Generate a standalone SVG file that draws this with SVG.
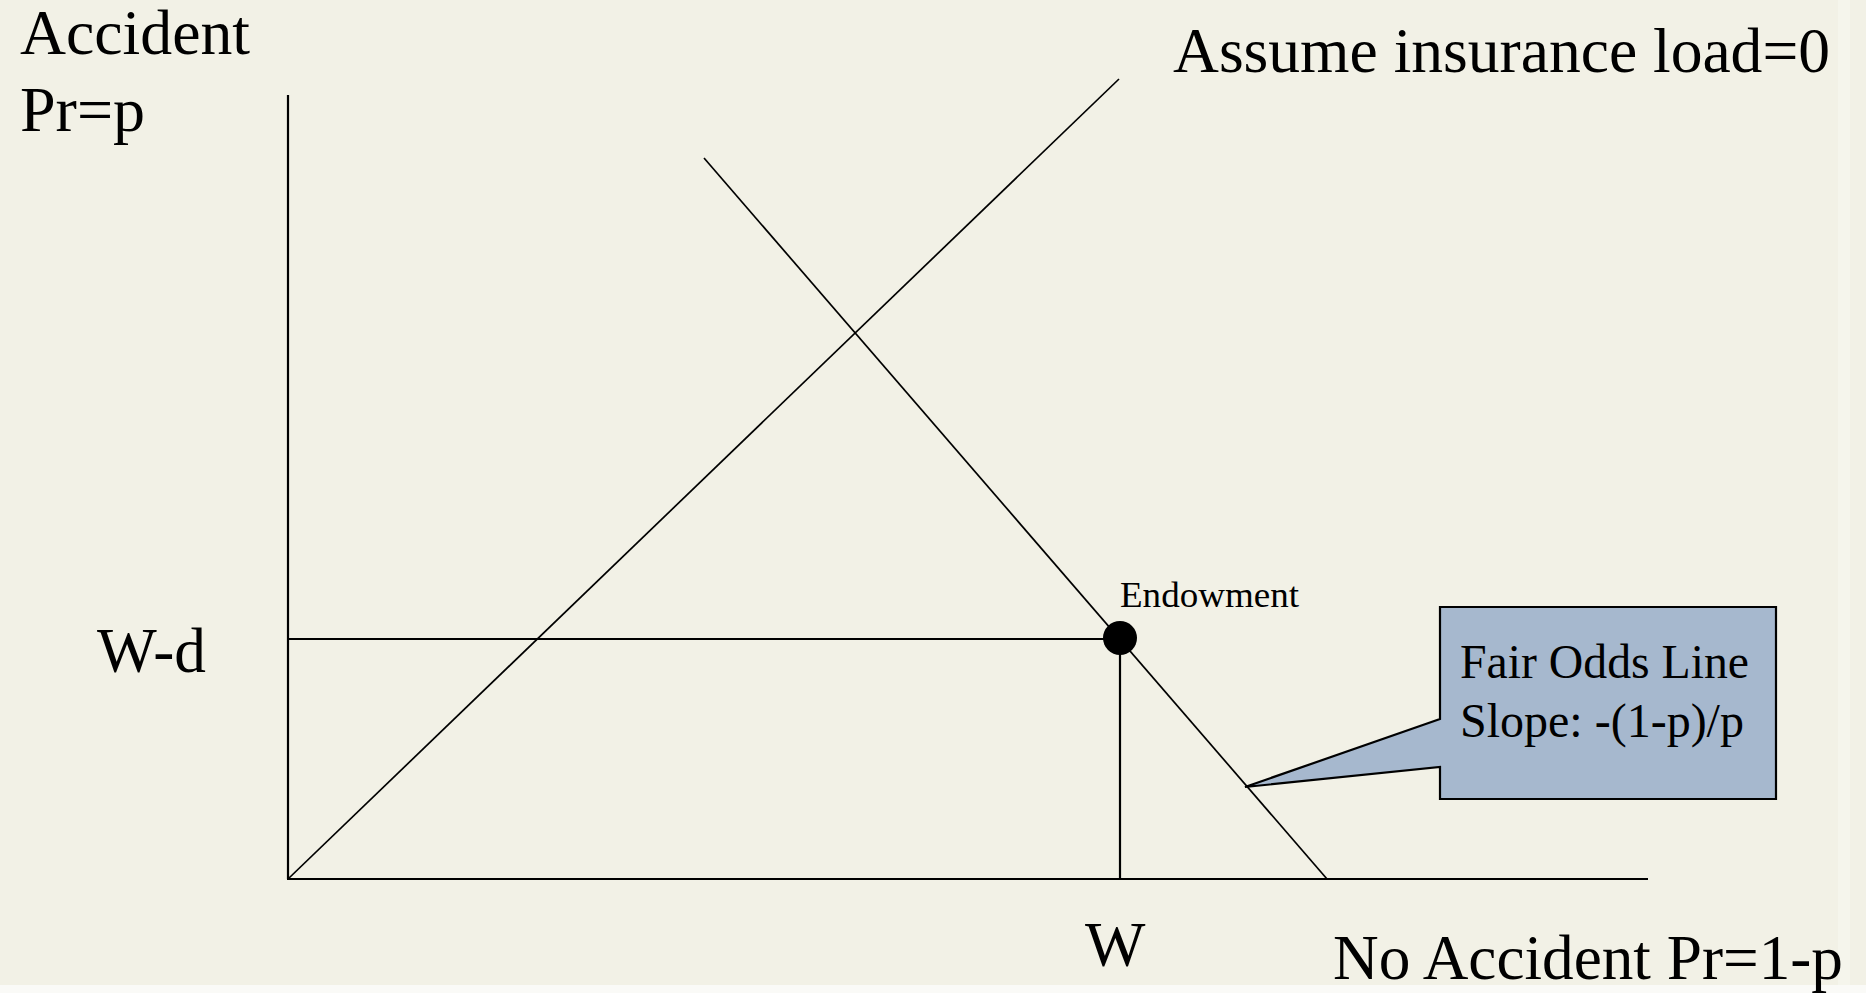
<svg xmlns="http://www.w3.org/2000/svg" width="1866" height="993" viewBox="0 0 1866 993">
  <style>
    .t { font-family: "Liberation Serif", "Times New Roman", serif; fill: #000; }
    .big { font-size: 64px; }
    .mid { font-size: 48px; }
    .small { font-size: 36px; }
    .ln { stroke: #000; fill: none; }
    .axis { stroke-width: 2.2; }
    .thin { stroke-width: 1.7; }
  </style>
  <rect x="0" y="0" width="1866" height="993" fill="#F2F1E6"/>
  <rect x="1838" y="0" width="12" height="985" fill="#F5F5EC"/>
  <rect x="0" y="985" width="1866" height="8" fill="#FAFAF7"/>

  <g id="connectors">
    <line class="ln axis" x1="288" y1="95" x2="288" y2="879"/>
    <line class="ln axis" x1="287" y1="879" x2="1648" y2="879"/>
    <line class="ln thin" x1="288" y1="879" x2="1119" y2="79"/>
    <line class="ln thin" x1="704" y1="158" x2="1327" y2="879"/>
    <line class="ln axis" x1="288" y1="639" x2="1120" y2="639"/>
    <line class="ln axis" x1="1120" y1="639" x2="1120" y2="879"/>
  </g>

  <g id="endowment">
    <circle cx="1120" cy="638" r="17" fill="#000"/>
    <text class="t small" x="1120" y="607" textLength="179" lengthAdjust="spacingAndGlyphs">Endowment</text>
  </g>

  <g id="callout">
    <path d="M1440,607 H1776 V799 H1440 V767 L1245,787 L1440,719 Z" fill="#A6B8CE" stroke="#000" stroke-width="2.2" stroke-linejoin="miter"/>
    <text class="t mid" x="1460" y="678" textLength="289" lengthAdjust="spacingAndGlyphs">Fair Odds Line</text>
    <text class="t mid" x="1460" y="737">Slope: -(1-p)/p</text>
  </g>

  <g id="labels">
    <text class="t big" x="20" y="54" textLength="230" lengthAdjust="spacingAndGlyphs">Accident</text>
    <text class="t big" x="20" y="131">Pr=p</text>
    <text class="t big" x="1173" y="72" textLength="657" lengthAdjust="spacingAndGlyphs">Assume insurance load=0</text>
    <text class="t big" x="97" y="672" textLength="109" lengthAdjust="spacingAndGlyphs">W-d</text>
    <text class="t big" x="1085" y="966">W</text>
    <text class="t big" x="1333" y="979" textLength="510" lengthAdjust="spacingAndGlyphs">No Accident Pr=1-p</text>
  </g>
</svg>
